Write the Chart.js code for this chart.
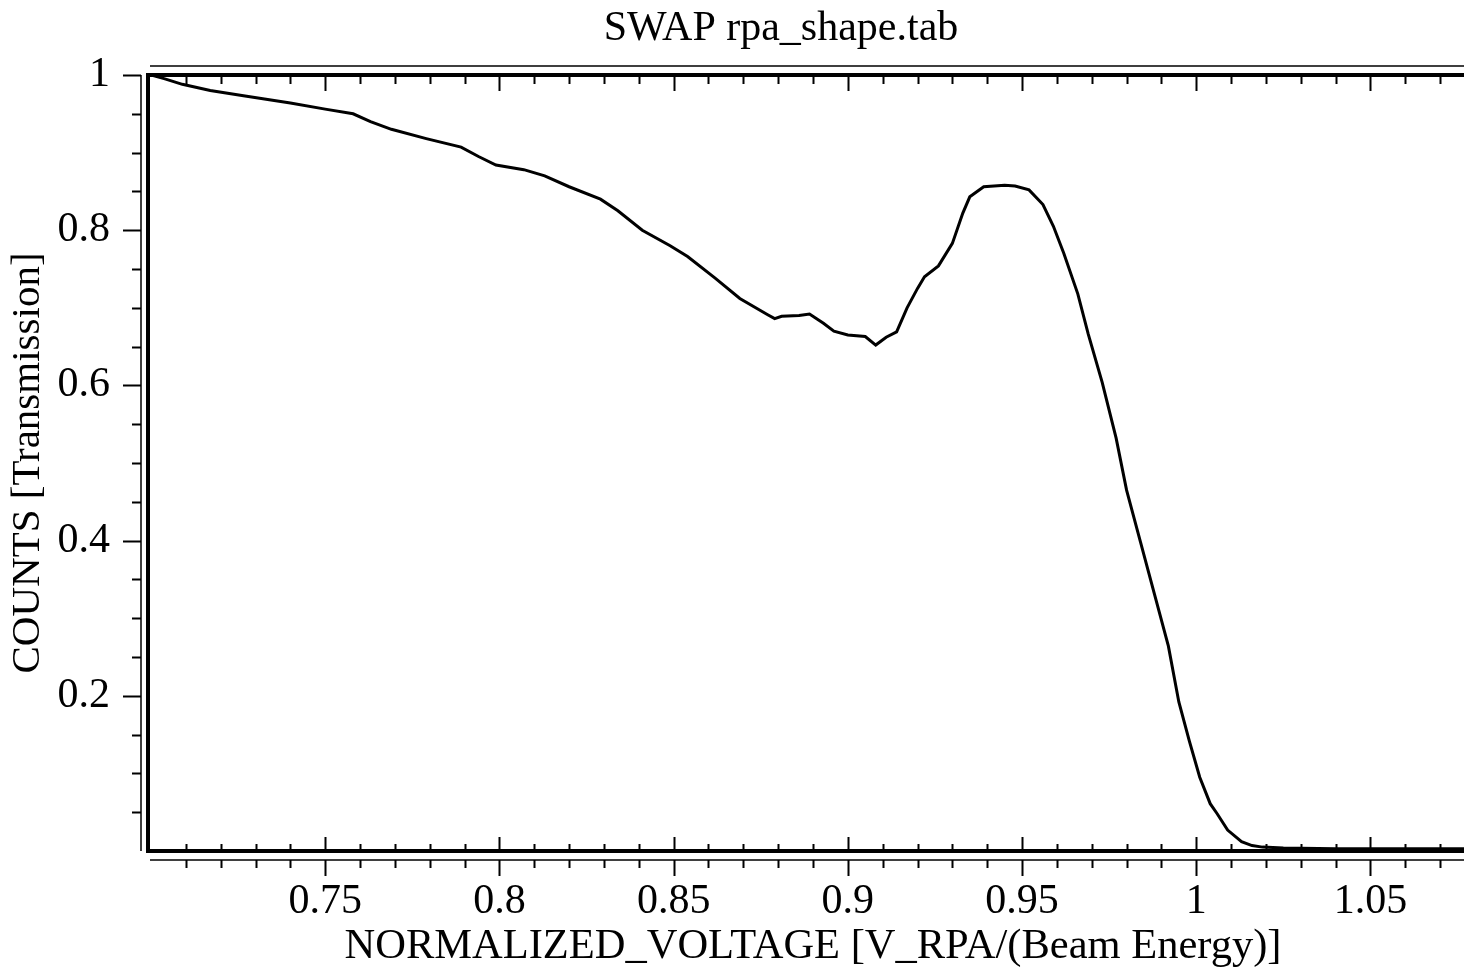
<!DOCTYPE html>
<html>
<head>
<meta charset="utf-8">
<title>SWAP rpa_shape.tab</title>
<script src="https://cdn.jsdelivr.net/npm/chart.js@4/dist/chart.umd.min.js"></script>
<style>
  html, body { margin: 0; padding: 0; background: #fff; overflow: hidden; }
  #wrap { width: 1480px; height: 968px; }
</style>
</head>
<body>
<div id="wrap"><canvas id="rpaChart" width="1480" height="968"></canvas></div>
<script>
// RPA transmission curve
const voltage = [0.700, 0.704, 0.709, 0.717, 0.727, 0.740, 0.750, 0.758, 0.763, 0.769,
  0.779, 0.789, 0.794, 0.799, 0.807, 0.813, 0.820, 0.829, 0.834, 0.841,
  0.849, 0.854, 0.862, 0.869, 0.877, 0.879, 0.881, 0.886, 0.889, 0.893,
  0.896, 0.900, 0.905, 0.908, 0.911, 0.914, 0.917, 0.920, 0.922, 0.926,
  0.930, 0.933, 0.935, 0.939, 0.945, 0.948, 0.952, 0.956, 0.959, 0.962,
  0.966, 0.969, 0.973, 0.977, 0.980, 0.984, 0.988, 0.992, 0.995, 0.998,
  1.001, 1.004, 1.006, 1.009, 1.013, 1.016, 1.019, 1.025, 1.040, 1.060, 1.080];
const counts = [1.000, 0.995, 0.988, 0.980, 0.973, 0.964, 0.956, 0.950, 0.940, 0.930,
  0.918, 0.907, 0.895, 0.884, 0.878, 0.870, 0.856, 0.840, 0.825, 0.800,
  0.780, 0.766, 0.738, 0.712, 0.691, 0.686, 0.689, 0.690, 0.692, 0.680,
  0.670, 0.665, 0.663, 0.652, 0.662, 0.669, 0.700, 0.725, 0.740, 0.754,
  0.783, 0.822, 0.843, 0.856, 0.858, 0.857, 0.852, 0.833, 0.805, 0.770,
  0.718, 0.666, 0.604, 0.532, 0.465, 0.398, 0.331, 0.264, 0.192, 0.142,
  0.095, 0.061, 0.048, 0.027, 0.012, 0.007, 0.005, 0.004, 0.003, 0.003, 0.003];

const xTicks = [0.75, 0.8, 0.85, 0.9, 0.95, 1, 1.05];
const yTicks = [0.2, 0.4, 0.6, 0.8, 1];

const chartTitle = 'SWAP rpa_shape.tab';
const xTitle = 'NORMALIZED_VOLTAGE [V_RPA/(Beam Energy)]';
const yTitle = 'COUNTS [Transmission]';

const serif = '"Liberation Serif", "Times New Roman", serif';

// box, offset axis lines, minor/major ticks and the title
const framePlugin = {
  id: 'frame',
  afterDraw(chart) {
    const { ctx, chartArea: a, scales: { x, y } } = chart;
    ctx.save();
    ctx.strokeStyle = '#000';

    // thick plot box
    ctx.lineWidth = 4;
    ctx.beginPath();
    ctx.moveTo(a.right + 10, a.top);
    ctx.lineTo(a.left - 3, a.top);
    ctx.lineTo(a.left - 3, a.bottom);
    ctx.lineTo(a.right + 10, a.bottom);
    ctx.stroke();

    // thin offset axis lines
    const topLine = a.top - 9, leftLine = a.left - 10, botLine = a.bottom + 9;
    ctx.lineWidth = 1.5;
    ctx.beginPath();
    ctx.moveTo(a.left - 1, topLine); ctx.lineTo(a.right + 10, topLine);
    ctx.moveTo(leftLine, a.top); ctx.lineTo(leftLine, a.bottom);
    ctx.moveTo(a.left - 1, botLine); ctx.lineTo(a.right + 10, botLine);
    ctx.stroke();

    // x ticks every 0.01, long ones every 0.05
    ctx.lineWidth = 2;
    ctx.beginPath();
    for (let k = 71; k <= 108; k++) {
      const px = Math.round(x.getPixelForValue(k / 100)) + 0.5;
      const major = k % 5 === 0;
      ctx.moveTo(px, a.top); ctx.lineTo(px, a.top + (major ? 16 : 9));
      ctx.moveTo(px, a.bottom); ctx.lineTo(px, a.bottom - (major ? 14 : 7));
      ctx.moveTo(px, botLine); ctx.lineTo(px, botLine + (major ? 16 : 8));
    }
    // y ticks every 0.05, long ones every 0.2
    for (let k = 1; k <= 20; k++) {
      const py = Math.round(y.getPixelForValue(k / 20)) + 0.5;
      const major = k % 4 === 0;
      ctx.moveTo(leftLine, py); ctx.lineTo(leftLine - (major ? 18 : 9), py);
    }
    ctx.stroke();

    // chart title
    ctx.fillStyle = '#000';
    ctx.font = '42px ' + serif;
    ctx.textAlign = 'center';
    ctx.textBaseline = 'alphabetic';
    ctx.fillText(chartTitle, 781, 40);
    ctx.restore();
  }
};

const ctx = document.getElementById('rpaChart').getContext('2d');
new Chart(ctx, {
  type: 'line',
  data: {
    datasets: [{
      data: voltage.map((v, i) => ({ x: v, y: counts[i] })),
      borderColor: '#000',
      borderWidth: 3,
      pointRadius: 0,
      tension: 0,
      fill: false
    }]
  },
  options: {
    responsive: false,
    animation: false,
    layout: { padding: { top: 75, right: 5, bottom: 0, left: 0 } },
    plugins: {
      legend: { display: false },
      tooltip: { enabled: false }
    },
    scales: {
      x: {
        type: 'linear',
        min: 0.7,
        max: 1.08,
        border: { display: false },
        grid: { display: false, drawTicks: false },
        afterBuildTicks: scale => { scale.ticks = xTicks.map(v => ({ value: v })); },
        afterFit: scale => { scale.height = 117; },
        ticks: {
          autoSkip: false,
          maxRotation: 0,
          padding: 26,
          color: '#000',
          font: { family: serif, size: 42 },
          callback: v => String(v)
        },
        title: {
          display: true,
          text: xTitle,
          color: '#000',
          padding: { top: 0, bottom: 0 },
          font: { family: serif, size: 42.5, lineHeight: 1 }
        }
      },
      y: {
        min: 0,
        max: 1,
        border: { display: false },
        grid: { display: false, drawTicks: false },
        afterBuildTicks: scale => { scale.ticks = yTicks.map(v => ({ value: v })); },
        afterFit: scale => { scale.width = 151; },
        ticks: {
          padding: 41,
          color: '#000',
          font: { family: serif, size: 42 },
          callback: v => String(v)
        },
        title: {
          display: true,
          text: yTitle,
          color: '#000',
          padding: { top: 8, bottom: 0 },
          font: { family: serif, size: 41, lineHeight: 1 }
        }
      }
    }
  },
  plugins: [framePlugin]
});
</script>
</body>
</html>
